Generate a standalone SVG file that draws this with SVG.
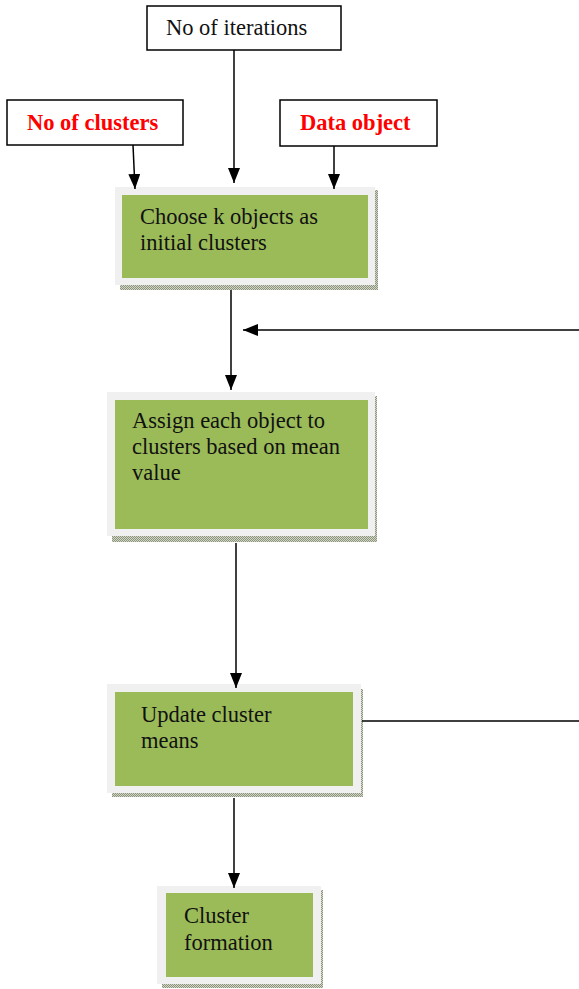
<svg xmlns="http://www.w3.org/2000/svg" width="579" height="989" viewBox="0 0 579 989">
<defs>
<marker id="arr" viewBox="0 0 15 12" refX="15" refY="6" markerWidth="15" markerHeight="12" markerUnits="userSpaceOnUse" orient="auto">
<path d="M0,0 L15,6 L0,12 z" fill="#000"/>
</marker>
<pattern id="dots" width="2" height="2" patternUnits="userSpaceOnUse">
<rect width="2" height="2" fill="#d2d5c8"/>
<rect width="1" height="1" fill="#8a947a"/>
<rect x="1" y="1" width="1" height="1" fill="#8a947a"/>
</pattern>
<style>
.inbox{fill:#fff;stroke:#000;stroke-width:1.5}
.t{font-family:"Liberation Serif","Times New Roman",serif;font-size:22.5px;fill:#111}
.r{font-family:"Liberation Serif","Times New Roman",serif;font-size:22.5px;font-weight:bold;fill:#ff0000}
.frame{fill:#f0f0f0}
.shadow{fill:url(#dots)}
.green{fill:#9bbb59}
.conn line{stroke:#000;stroke-width:1.5}
</style>
</defs>
<rect width="579" height="989" fill="#fff"/>
<g id="iterations">
<rect class="inbox" x="147" y="6" width="194" height="44"/>
<text class="t" x="166" y="35">No of iterations</text>
</g>
<g id="clusters">
<rect class="inbox" x="7" y="100" width="176" height="45"/>
<text class="r" x="27" y="130">No of clusters</text>
</g>
<g id="dataobject">
<rect class="inbox" x="280" y="100" width="157" height="46"/>
<text class="r" x="300" y="130">Data object</text>
</g>
<g id="choose">
<rect class="shadow" x="120" y="190" width="258" height="100"/>
<rect class="frame" x="115" y="187" width="260" height="98"/>
<rect class="green" x="122" y="195" width="246" height="83"/>
<text class="t" x="140" y="224">Choose k objects as</text>
<text class="t" x="140" y="250">initial clusters</text>
</g>
<g id="assign">
<rect class="shadow" x="112" y="396" width="265" height="146"/>
<rect class="frame" x="107" y="392" width="268" height="144"/>
<rect class="green" x="115" y="400" width="253" height="129"/>
<text class="t" x="132" y="428">Assign each object to</text>
<text class="t" x="132" y="454">clusters based on mean</text>
<text class="t" x="132" y="480">value</text>
</g>
<g id="update">
<rect class="shadow" x="112" y="689" width="251" height="108"/>
<rect class="frame" x="107" y="684" width="254" height="109"/>
<rect class="green" x="115" y="692" width="238" height="94"/>
<text class="t" x="141" y="722">Update cluster</text>
<text class="t" x="141" y="748">means</text>
</g>
<g id="formation">
<rect class="shadow" x="162" y="890" width="161" height="98"/>
<rect class="frame" x="157" y="886" width="164" height="98"/>
<rect class="green" x="166" y="893" width="147" height="84"/>
<text class="t" x="184" y="923">Cluster</text>
<text class="t" x="184" y="950">formation</text>
</g>
<g id="connectors" class="conn">
<line x1="133" y1="145" x2="135" y2="189" marker-end="url(#arr)"/>
<line x1="234" y1="50" x2="234" y2="183" marker-end="url(#arr)"/>
<line x1="334" y1="146" x2="334" y2="189" marker-end="url(#arr)"/>
<line x1="231" y1="290" x2="231" y2="390" marker-end="url(#arr)"/>
<line x1="579" y1="330" x2="243" y2="330" marker-end="url(#arr)"/>
<line x1="236" y1="543" x2="236" y2="688" marker-end="url(#arr)"/>
<line x1="362" y1="721" x2="579" y2="721"/>
<line x1="234" y1="798" x2="234" y2="888" marker-end="url(#arr)"/>
</g>
</svg>
